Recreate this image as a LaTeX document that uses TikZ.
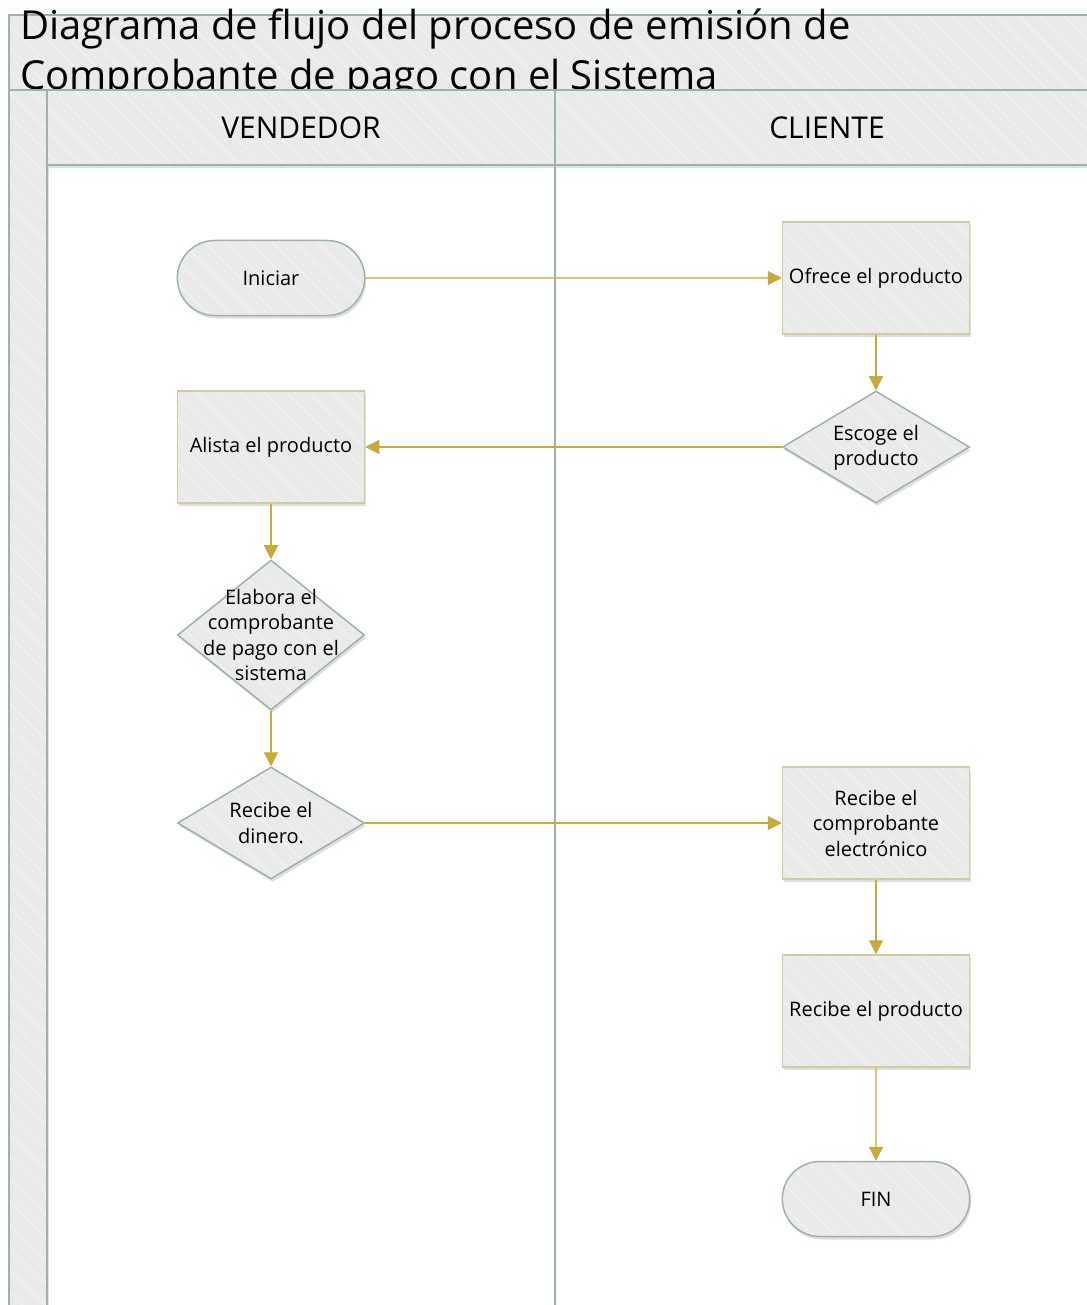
\documentclass[tikz,border=0pt]{standalone}
\usepackage{fontspec}
\setmainfont{Open Sans}
\usetikzlibrary{shapes.geometric,shapes.misc,arrows.meta,shadows,patterns.meta}
\definecolor{boxfill}{HTML}{EAEAEA}
\definecolor{stripe}{HTML}{F1F1F1}
\definecolor{laneline}{HTML}{9DB3AA}
\definecolor{rectline}{HTML}{D3C9A3}
\definecolor{flow}{HTML}{C9A93A}
\newcommand\myNodeFont{\fontsize{20}{25.5}\selectfont}
\begin{document}
\begin{tikzpicture}[x=1pt,y=-1pt,
  hatch/.style={preaction={fill=boxfill}, pattern={Lines[angle=-45,distance=16pt,line width=1.5pt]}, pattern color=stripe},
  shade/.style={drop shadow={opacity=0.25,shadow xshift=1.5pt,shadow yshift=-3pt}},
  lanebox/.style={shade, hatch, draw=laneline, line width=1.5pt},
  term/.style={shade, hatch, draw=laneline, line width=1.5pt, rounded rectangle, minimum width=194pt, minimum height=75pt, font=\myNodeFont},
  proc/.style={shade, hatch, draw=rectline, line width=1.5pt, minimum width=187pt, minimum height=112pt, align=center, font=\myNodeFont, inner sep=0pt},
  dec/.style={shade, hatch, draw=laneline, line width=1.5pt, diamond, inner sep=0pt, minimum width=187pt, minimum height=112pt},
  dectext/.style={align=center, font=\myNodeFont},
  flowarrow/.style={draw=flow, line width=1.3pt, -{Triangle[length=14pt,width=14pt]}},
  titletext/.style={font=\fontsize{40}{50}\selectfont, anchor=base west, inner sep=0pt},
  headtext/.style={font=\fontsize{30}{36}\selectfont}
]
\useasboundingbox (0,0) rectangle (1086,1305);
\fill[white] (0,0) rectangle (1086,1305);
% title band
\path[lanebox] (9,15) rectangle (1100,90);
\node[titletext] (t1) at (20,40) {Diagrama de flujo del proceso de emisión de};
\node[titletext] (t2) at (20,90) {Comprobante de pago con el Sistema};
% left strip and lane headers
\path[lanebox] (9,90) rectangle (47,1320);
\path[lanebox] (47,90) rectangle (555,165);
\path[lanebox] (555,90) rectangle (1100,165);
\draw[laneline, line width=1.5pt] (555,165) -- (555,1320);
\node[headtext] (hv) at (301,128) {VENDEDOR};
\node[headtext] (hc) at (827,128) {CLIENTE};
% nodes
\node[term] (ini) at (271,278) {Iniciar};
\node[proc] (ofr) at (876,278) {\raisebox{-3pt}{Ofrece el producto}};
\node[dec] (esc) at (876,447) {};
\node[dectext] at ([yshift=-1pt]esc.center) {Escoge el\\producto};
\node[proc] (ali) at (271,447) {\raisebox{-3pt}{Alista el producto}};
\node[dec, minimum height=150pt] (ela) at (271,635) {};
\node[dectext] at (ela.center) {Elabora el\\comprobante\\de pago con el\\sistema};
\node[dec] (din) at (271,823) {};
\node[dectext] at (din.center) {Recibe el\\dinero.};
\node[proc] (comp) at (876,823) {Recibe el\\comprobante\\electrónico};
\node[proc] (prod) at (876,1011) {\raisebox{-3pt}{Recibe el producto}};
\node[term] (fin) at (876,1199) {FIN};
% connectors
\draw[flowarrow] (ini) -- (ofr);
\draw[flowarrow] (ofr) -- (esc);
\draw[flowarrow] (esc) -- (ali);
\draw[flowarrow] (ali) -- (ela);
\draw[flowarrow] (ela) -- (din);
\draw[flowarrow] (din) -- (comp);
\draw[flowarrow] (comp) -- (prod);
\draw[flowarrow] (prod) -- (fin);
\end{tikzpicture}
\end{document}
